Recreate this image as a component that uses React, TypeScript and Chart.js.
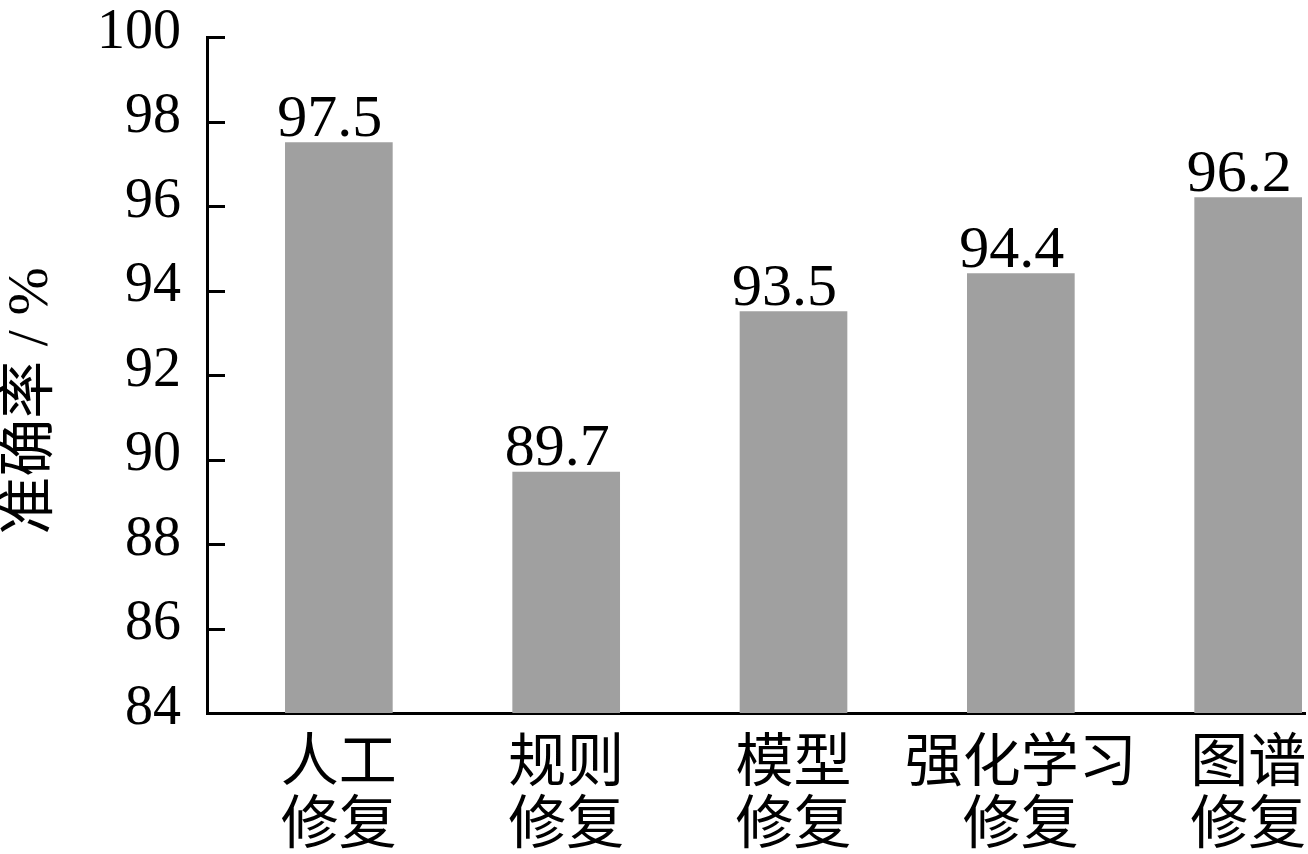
import React, { useEffect, useRef } from 'react';
import { Chart, registerables } from 'chart.js';

Chart.register(...registerables);

const categories: string[][] = [
  ['人工', '修复'],
  ['规则', '修复'],
  ['模型', '修复'],
  ['强化学习', '修复'],
  ['图谱', '修复'],
];
const accuracy: number[] = [97.5, 89.7, 93.5, 94.4, 96.2];
const yTicks: number[] = [84, 86, 88, 90, 92, 94, 96, 98, 100];
const yTitle = '准确率 / %';

const FONT = "'Liberation Serif', 'Times New Roman', 'Noto Sans CJK SC', serif";

const innerTicks = {
  id: 'innerTicks',
  afterDraw(chart: any) {
    const ys = chart.scales.y;
    const ctx = chart.ctx;
    const left = chart.chartArea.left;
    ctx.save();
    ctx.strokeStyle = '#000';
    ctx.lineWidth = 3;
    ys.ticks.forEach((t: any) => {
      const py = Math.round(ys.getPixelForValue(t.value)) + 0.5;
      ctx.beginPath();
      ctx.moveTo(left, py);
      ctx.lineTo(left + 18, py);
      ctx.stroke();
    });
    ctx.restore();
  },
};

const valueLabels = {
  id: 'valueLabels',
  afterDatasetsDraw(chart: any) {
    const ctx = chart.ctx;
    const meta = chart.getDatasetMeta(0);
    ctx.save();
    ctx.fillStyle = '#000';
    ctx.font = `60px ${FONT}`;
    ctx.textAlign = 'center';
    ctx.textBaseline = 'alphabetic';
    meta.data.forEach((bar: any, i: number) => {
      ctx.fillText(accuracy[i].toFixed(1), bar.x - 9, bar.y - 7);
    });
    ctx.restore();
  },
};

const axisTitle = {
  id: 'axisTitle',
  afterDraw(chart: any) {
    const ctx = chart.ctx;
    const ys = chart.scales.y;
    const cy = (ys.top + ys.bottom) / 2 + 26;
    ctx.save();
    ctx.translate(32, cy);
    ctx.rotate(-Math.PI / 2);
    ctx.fillStyle = '#000';
    ctx.font = `58px ${FONT}`;
    ctx.textAlign = 'center';
    ctx.textBaseline = 'middle';
    ctx.fillText(yTitle, 0, 0);
    ctx.restore();
  },
};

export default function App() {
  const ref = useRef<HTMLCanvasElement | null>(null);

  useEffect(() => {
    if (!ref.current) return;
    const chart = new Chart(ref.current, {
      type: 'bar',
      data: {
        datasets: [
          {
            data: accuracy.map((v, i) => ({ x: i, y: v })),
            backgroundColor: '#a0a0a0',
            barThickness: 107,
          },
        ],
      },
      options: {
        responsive: false,
        animation: false,
        layout: { padding: { top: 37, right: 3, left: 0, bottom: 0 } },
        plugins: {
          legend: { display: false },
          tooltip: { enabled: false },
        },
        scales: {
          x: {
            type: 'linear',
            offset: false,
            min: -0.58,
            max: 4.25,
            afterBuildTicks: (axis: any) => {
              axis.ticks = categories.map((_, i) => ({ value: i }));
            },
            afterFit: (scale: any) => {
              scale.height = 141;
              scale.paddingLeft = 0;
              scale.paddingRight = 0;
            },
            grid: { display: true, drawOnChartArea: false, drawTicks: false },
            border: { display: true, color: '#000', width: 3 },
            ticks: {
              autoSkip: false,
              maxRotation: 0,
              minRotation: 0,
              padding: 22,
              color: '#000',
              font: { family: FONT, size: 58, lineHeight: 1.07 },
              callback: (_v: any, index: number) => categories[index],
            },
          },
          y: {
            type: 'linear',
            min: 84,
            max: 100,
            afterBuildTicks: (axis: any) => {
              axis.ticks = yTicks.map((v) => ({ value: v }));
            },
            afterFit: (scale: any) => {
              scale.width = 207;
              scale.paddingTop = 0;
              scale.paddingBottom = 0;
            },
            grid: { display: true, drawOnChartArea: false, drawTicks: false },
            border: { display: true, color: '#000', width: 3 },
            ticks: {
              padding: 26,
              labelOffset: -4,
              color: '#000',
              font: { family: FONT, size: 56 },
            },
          },
        },
      },
      plugins: [innerTicks, valueLabels, axisTitle],
    } as any);
    return () => chart.destroy();
  }, []);

  return (
    <div style={{ position: 'fixed', left: 0, top: 0, width: 1308, height: 854, background: '#fff' }}>
      <canvas ref={ref} width={1308} height={854} style={{ display: 'block' }} />
    </div>
  );
}
